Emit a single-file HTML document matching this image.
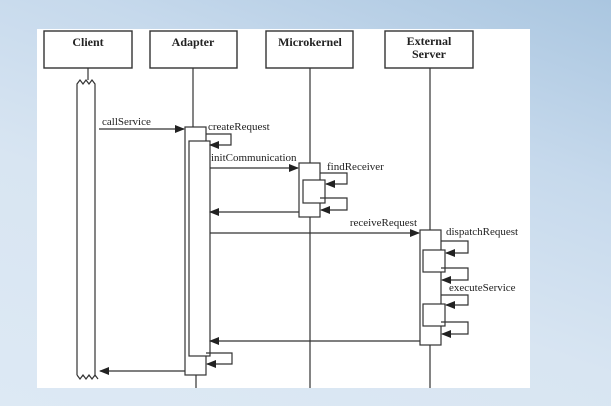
<!DOCTYPE html>
<html><head><style>
html,body{margin:0;padding:0;width:611px;height:406px;overflow:hidden;background:linear-gradient(200deg,#aac6e0 0%,#c6d9ec 30%,#d8e5f2 60%,#dde9f4 100%);}
svg{position:absolute;left:0;top:0}
text{font-family:"Liberation Serif",serif;font-size:11px;fill:#222}
.b{font-weight:bold;font-size:12px}
</style></head><body>
<svg width="611" height="406" viewBox="0 0 611 406">
<defs><marker id="a" markerWidth="10" markerHeight="8" refX="9" refY="4" orient="auto" markerUnits="userSpaceOnUse"><path d="M0,0L10,4L0,8z" fill="#222"/></marker></defs>
<rect x="37" y="29" width="493" height="359" fill="#fff"/>
<g fill="#fff" stroke="#333" stroke-width="1.4">
<rect x="44" y="31" width="88" height="37"/><rect x="150" y="31" width="87" height="37"/>
<rect x="266" y="31" width="87" height="37"/><rect x="385" y="31" width="88" height="37"/>
</g>
<text class="b" x="88" y="46" text-anchor="middle">Client</text>
<text class="b" x="193" y="46" text-anchor="middle">Adapter</text>
<text class="b" x="310" y="46" text-anchor="middle">Microkernel</text>
<text class="b" x="429" y="45" text-anchor="middle">External</text>
<text class="b" x="429" y="58" text-anchor="middle">Server</text>
<g stroke="#333" stroke-width="1.2" fill="none">
<line x1="88" y1="68" x2="88" y2="80"/>
<line x1="193" y1="68" x2="193" y2="127"/><line x1="196" y1="375" x2="196" y2="388"/>
<line x1="310" y1="68" x2="310" y2="163"/><line x1="310" y1="217" x2="310" y2="388"/>
<line x1="430" y1="68" x2="430" y2="230"/><line x1="430" y1="345" x2="430" y2="388"/>
<path d="M77,375V84l3,-4l3,4l3,-4l3,4l3,-4l3,4V375"/>
<path d="M77,375l3,4l3,-4l3,4l3,-4l3,4l3,-4l3,4"/>
</g>
<g fill="#fff" stroke="#333" stroke-width="1.2">
<rect x="185" y="127" width="21" height="248"/>
<rect x="189" y="141" width="21" height="215"/>
<rect x="299" y="163" width="21" height="54"/>
<rect x="303" y="180" width="22" height="23"/>
<rect x="420" y="230" width="21" height="115"/>
<rect x="423" y="250" width="22" height="22"/>
<rect x="423" y="304" width="22" height="22"/>
</g>
<g stroke="#333" stroke-width="1.2" fill="none" marker-end="url(#a)">
<line x1="99" y1="129" x2="184" y2="129"/>
<path d="M206,134H231V145H210"/>
<line x1="210" y1="168" x2="298" y2="168"/>
<path d="M320,173H347V184H326"/>
<path d="M320,198H347V210H321"/>
<line x1="299" y1="212" x2="210" y2="212"/>
<line x1="210" y1="233" x2="419" y2="233"/>
<path d="M441,241H468V253H446"/>
<path d="M441,268H468V280H442"/>
<path d="M441,295H468V305H446"/>
<path d="M441,322H468V334H442"/>
<line x1="420" y1="341" x2="210" y2="341"/>
<path d="M206,353H232V364H207"/>
<line x1="185" y1="371" x2="100" y2="371"/>
</g>
<text x="102" y="125">callService</text>
<text x="208" y="130">createRequest</text>
<text x="211" y="161">initCommunication</text>
<text x="327" y="170">findReceiver</text>
<text x="417" y="226" text-anchor="end">receiveRequest</text>
<text x="446" y="235">dispatchRequest</text>
<text x="449" y="291">executeService</text>
</svg>
</body></html>
